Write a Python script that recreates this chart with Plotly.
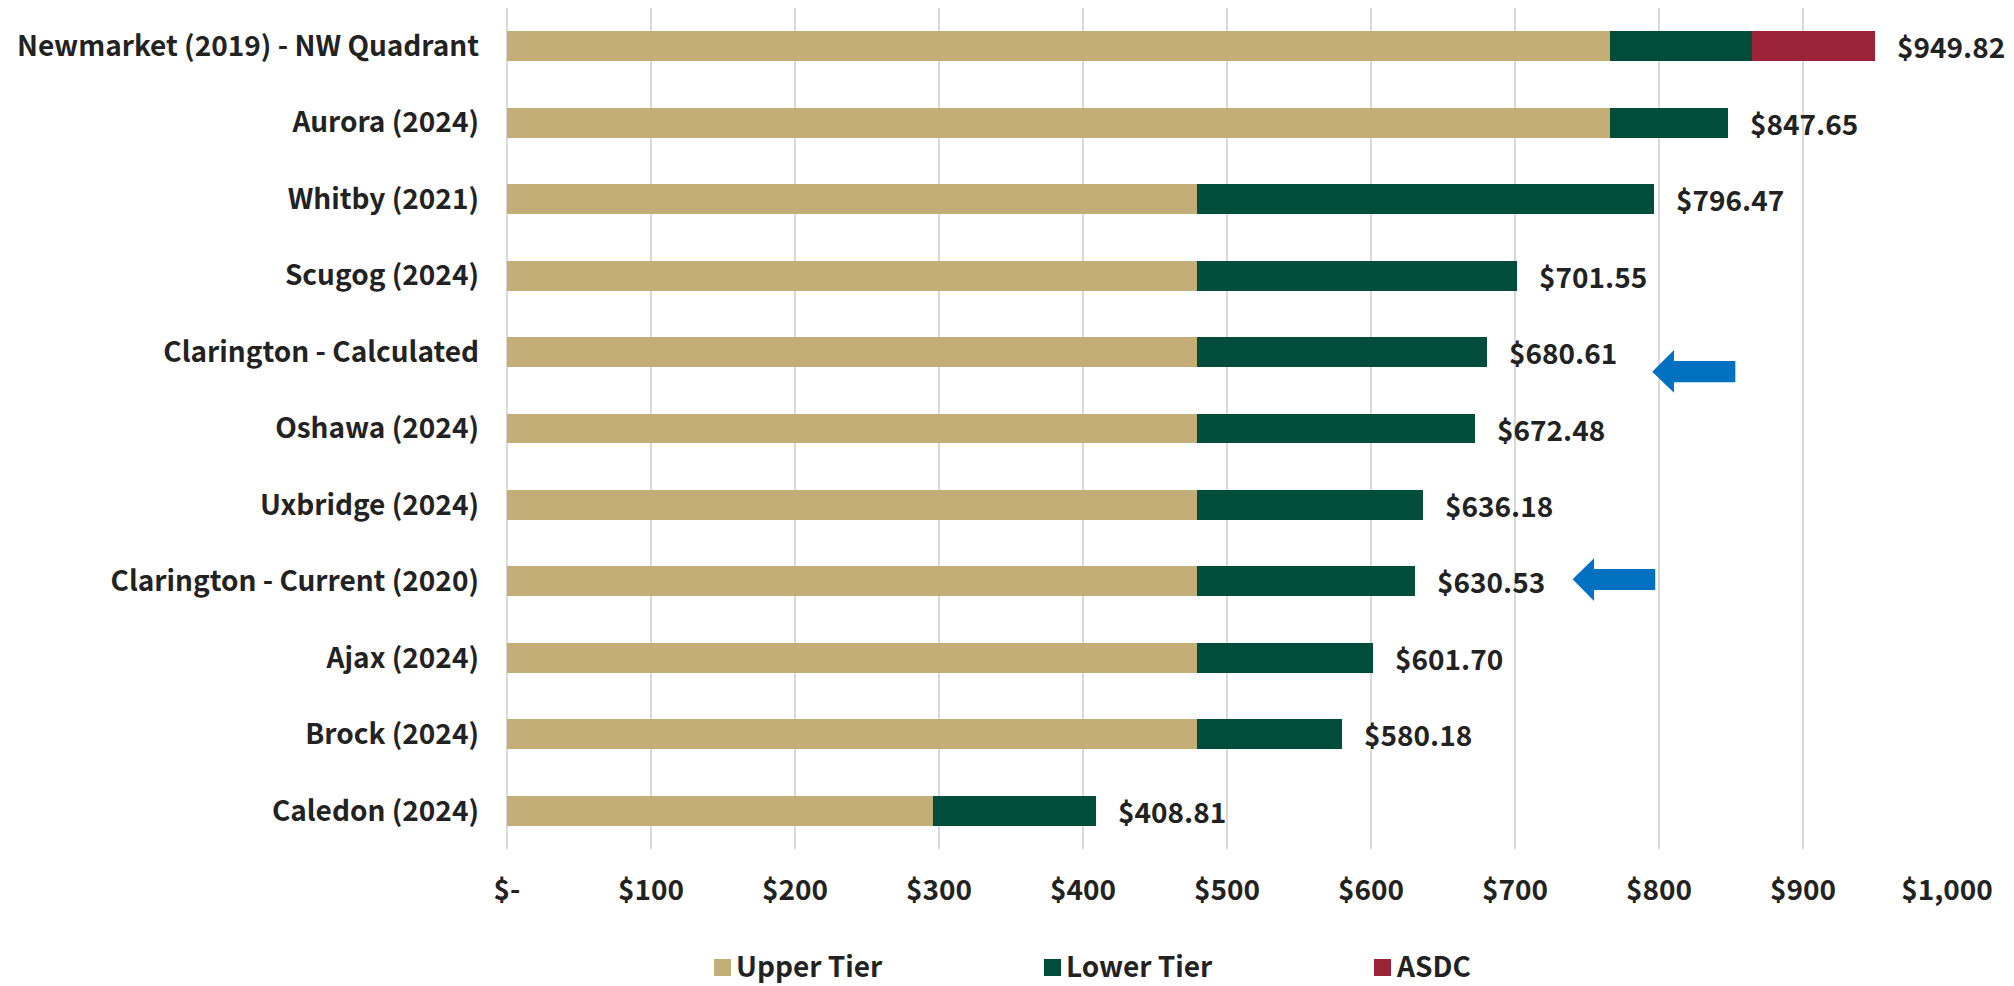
import plotly.graph_objects as go

# Development charge comparison by municipality (per unit)
categories = [
    "Newmarket (2019) - NW Quadrant",
    "Aurora (2024)",
    "Whitby (2021)",
    "Scugog (2024)",
    "Clarington - Calculated",
    "Oshawa (2024)",
    "Uxbridge (2024)",
    "Clarington - Current (2020)",
    "Ajax (2024)",
    "Brock (2024)",
    "Caledon (2024)",
]
totals = [949.82, 847.65, 796.47, 701.55, 680.61, 672.48, 636.18, 630.53, 601.70, 580.18, 408.81]
upper_tier = [766.20, 766.20, 479.40, 479.40, 479.40, 479.40, 479.40, 479.40, 479.40, 479.40, 295.80]
asdc = [85.22, 0, 0, 0, 0, 0, 0, 0, 0, 0, 0]
lower_tier = [round(t - u - a, 2) for t, u, a in zip(totals, upper_tier, asdc)]

x_ticks = [0, 100, 200, 300, 400, 500, 600, 700, 800, 900, 1000]
x_tick_text = ["$-", "$100", "$200", "$300", "$400", "$500", "$600", "$700", "$800", "$900", "$1,000"]

FONT = "Noto Sans CJK JP"
TEXT = "#222222"
SIZE = 28
W, H = 2014, 986
M_L, M_R, M_T, M_B = 507, 67, 8, 137
rows = list(range(len(categories)))

fig = go.Figure()
series = [
    ("Upper Tier", upper_tier, "#C4AE78"),
    ("Lower Tier", lower_tier, "#014D3C"),
    ("ASDC", asdc, "#9C2337"),
]
for name, vals, color in series:
    fig.add_trace(go.Bar(
        name=name, x=vals, y=rows, orientation="h",
        marker=dict(color=color, line=dict(width=0)),
        hoverinfo="x+name", showlegend=False,
    ))

# total labels at the end of each bar
for r, t in zip(rows, totals):
    fig.add_annotation(
        x=t, y=r, xref="x", yref="y", text=f"${t:,.2f}", showarrow=False,
        xanchor="left", yanchor="middle", xshift=20,
        font=dict(family=FONT, size=SIZE, color=TEXT, weight="bold"),
    )

# blue pointer arrows beside the two Clarington rows
def arrow_path(tip_x, back_x, end_x, tip_y, head_top, head_bot, shaft_top, shaft_bot):
    return (f"M{tip_x},{tip_y} L{back_x},{head_top} L{back_x},{shaft_top} "
            f"L{end_x},{shaft_top} L{end_x},{shaft_bot} L{back_x},{shaft_bot} "
            f"L{back_x},{head_bot} Z")

for spec in [
    (795.3, 810.4, 853.0, 4.258, 3.974, 4.532, 4.118, 4.396),
    (740.0, 754.9, 797.4, 6.971, 6.697, 7.255, 6.837, 7.111),
]:
    fig.add_shape(type="path", path=arrow_path(*spec), xref="x", yref="y",
                  fillcolor="#0070C0", line=dict(width=0), layer="above")

# legend row under the axis: colour swatch followed by series name
plot_w = W - M_L - M_R
plot_h = H - M_T - M_B
def px_x(px):
    return (px - M_L) / plot_w
def px_y(py):
    return (H - M_B - py) / plot_h

legend_left = [714, 1044, 1374]
SWATCH = 17
LEGEND_MID = 965
for (name, _, color), left in zip(series, legend_left):
    fig.add_shape(type="rect", xref="paper", yref="paper",
                  x0=px_x(left), x1=px_x(left + SWATCH),
                  y0=px_y(LEGEND_MID - 6), y1=px_y(LEGEND_MID - 6 + SWATCH),
                  fillcolor=color, line=dict(width=0))
    fig.add_annotation(x=px_x(left + SWATCH + 3), y=px_y(LEGEND_MID), xref="paper", yref="paper",
                       text=name, showarrow=False, xanchor="left", yanchor="middle",
                       font=dict(family=FONT, size=SIZE, color=TEXT, weight="bold"))

fig.update_layout(
    barmode="stack",
    bargap=0.608,
    width=W, height=H,
    margin=dict(l=M_L, r=M_R, t=M_T, b=M_B, autoexpand=False),
    paper_bgcolor="white", plot_bgcolor="white",
    font=dict(family=FONT, size=SIZE, color=TEXT, weight="bold"),
    showlegend=False,
    xaxis=dict(
        range=[0, 1000], tickvals=x_ticks, ticktext=x_tick_text,
        showgrid=True, gridcolor="#D9D9D9", gridwidth=2,
        zeroline=True, zerolinecolor="#D9D9D9", zerolinewidth=2,
        showline=False, ticks="", ticklabelstandoff=22, fixedrange=True,
    ),
    yaxis=dict(
        range=[10.5, -0.5], tickvals=rows, ticktext=categories,
        showgrid=False, zeroline=False, showline=False, ticks="",
        ticklabelstandoff=27, fixedrange=True,
    ),
)

fig.write_html("out.html")
